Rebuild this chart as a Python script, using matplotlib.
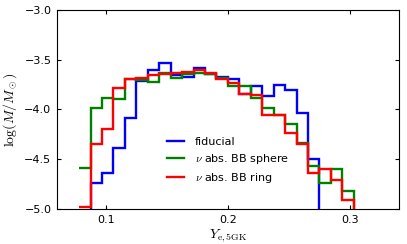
"""Ye distribution of the ejecta mass for three neutrino setups (step histograms)"""

import numpy as np
import matplotlib
matplotlib.use("Agg")
import matplotlib.pyplot as plt

# empty bins sit below the visible range
EMPTY = -6.0

# bin edges: 0.05 .. 0.35 in 32 bins, only bins 3..27 are used
bin_edges = np.linspace(0.05, 0.35, 33)[3:29]

fiducial = [EMPTY, -4.74, -4.64, -4.39, -4.09, -3.71, -3.60, -3.53, -3.65,
            -3.67, -3.58, -3.64, -3.67, -3.69, -3.84, -3.76, -3.86, -3.75,
            -3.80, -4.04, -4.50, EMPTY, EMPTY, EMPTY, EMPTY]
bb_sphere = [-4.59, -3.99, -3.88, -3.89, -3.69, -3.70, -3.72, -3.63, -3.68,
             -3.64, -3.63, -3.64, -3.68, -3.76, -3.76, -3.88, -3.985, -4.055,
             -4.15, -4.34, -4.565, -4.74, -4.60, -4.82, EMPTY]
bb_ring = [-4.98, -4.35, -4.20, -3.78, -3.69, -3.68, -3.65, -3.64, -3.63,
           -3.62, -3.60, -3.63, -3.69, -3.73, -3.84, -3.85, -4.06, -4.06,
           -4.24, -4.35, -4.64, -4.60, -4.71, -4.91, EMPTY]

series = [
    (fiducial, "b", "fiducial"),
    (bb_sphere, "g", r"$\nu$ abs. BB sphere"),
    (bb_ring, "r", r"$\nu$ abs. BB ring"),
]

x_ticks = [0.1, 0.2, 0.3]
y_ticks = [-5.0, -4.5, -4.0, -3.5, -3.0]

plt.rcParams["mathtext.fontset"] = "cm"
plt.rcParams["font.size"] = 8
plt.rcParams["xtick.direction"] = "in"
plt.rcParams["ytick.direction"] = "in"
plt.rcParams["xtick.top"] = True
plt.rcParams["ytick.right"] = True
plt.rcParams["xtick.major.size"] = 3
plt.rcParams["ytick.major.size"] = 3

fig = plt.figure(figsize=(4.07, 2.44), dpi=100)
ax = fig.add_axes([0.140, 0.1434, 0.840, 0.816])

for values, color, label in series:
    ax.stairs(values, bin_edges, baseline=None, color=color, lw=1.7, label=label)

ax.set_xlim(0.06, 0.34)
ax.set_ylim(-5.0, -3.0)
ax.set_xticks(x_ticks)
ax.set_yticks(y_ticks)
ax.tick_params(labelsize=8, pad=4)

ax.set_xlabel(r"$Y_{\rm e,5GK}$", fontsize=10, labelpad=2)
ax.set_ylabel(r"$\log(M/M_\odot)$", fontsize=10, labelpad=4)

labels = [label for _, _, label in series]
handles = [plt.Line2D([], [], color=c, lw=1.7) for _, c, _ in series]
ax.legend(handles, labels, loc="center left", bbox_to_anchor=(0.322, 0.243),
          frameon=False, fontsize=8, handlelength=1.5, handletextpad=1.0,
          labelspacing=0.45, borderpad=0, borderaxespad=0)

fig.savefig("out.png", dpi=100)
plt.close()
